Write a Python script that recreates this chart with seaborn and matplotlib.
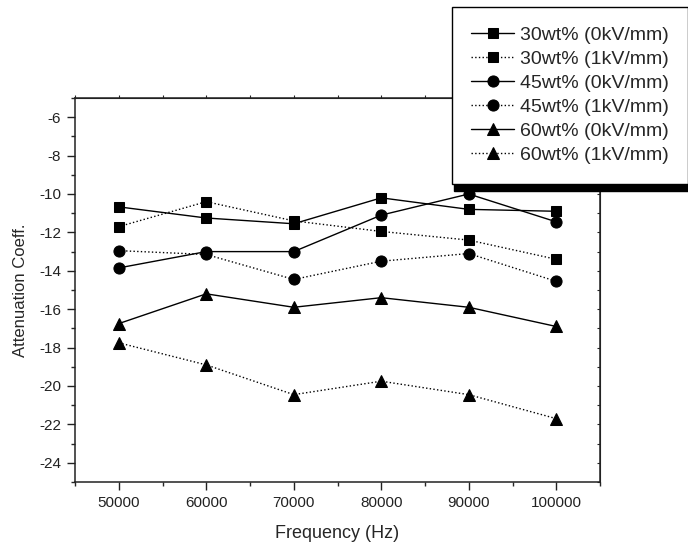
import numpy as np
import pandas as pd
import matplotlib
matplotlib.use("Agg")
import matplotlib.pyplot as plt
from matplotlib.patches import Shadow
from matplotlib.ticker import MultipleLocator
import seaborn as sns

freq = [50000, 60000, 70000, 80000, 90000, 100000]
s30_0 = [-10.67, -11.25, -11.55, -10.2, -10.8, -10.9]
s30_1 = [-11.7, -10.4, -11.4, -11.95, -12.4, -13.4]
s45_0 = [-13.85, -13.0, -13.0, -11.1, -10.0, -11.45]
s45_1 = [-12.95, -13.15, -14.45, -13.5, -13.1, -14.55]
s60_0 = [-16.75, -15.2, -15.9, -15.4, -15.9, -16.9]
s60_1 = [-17.75, -18.9, -20.45, -19.75, -20.45, -21.7]

labels = ["30wt% (0kV/mm)", "30wt% (1kV/mm)", "45wt% (0kV/mm)",
          "45wt% (1kV/mm)", "60wt% (0kV/mm)", "60wt% (1kV/mm)"]
series = [s30_0, s30_1, s45_0, s45_1, s60_0, s60_1]
markers = ["s", "s", "o", "o", "^", "^"]
msizes = [7.5, 7.5, 8, 8, 9, 9]
lstyles = ["-", ":", "-", ":", "-", ":"]
xticks = [50000, 60000, 70000, 80000, 90000, 100000]
yticks = [-24, -22, -20, -18, -16, -14, -12, -10, -8, -6]

sns.set_style("ticks")
plt.rcParams["font.family"] = ["Liberation Sans", "DejaVu Sans"]

fig = plt.figure(figsize=(6.88, 5.46), dpi=100)
ax = fig.add_axes([75 / 688, 1 - 482 / 546, 525 / 688, 384 / 546])

for lab, vals, m, ms, ls in zip(labels, series, markers, msizes, lstyles):
    df = pd.DataFrame({"Frequency": freq, "Coeff": vals})
    sns.lineplot(data=df, x="Frequency", y="Coeff", ax=ax, color="black",
                 marker=m, markersize=ms, markeredgecolor="black",
                 markerfacecolor="black", linestyle=ls, linewidth=1.0,
                 label=lab, legend=False)

ax.set_xlim(45000, 105000)
ax.set_ylim(-25, -5)
ax.set_xticks(xticks)
ax.set_xticklabels([str(v) for v in xticks])
ax.set_yticks(yticks)
ax.set_yticklabels([str(v) for v in yticks])
ax.xaxis.set_minor_locator(MultipleLocator(5000))
ax.yaxis.set_minor_locator(MultipleLocator(1))
ax.tick_params(which="major", direction="out", length=6, width=1.0,
               labelsize=11, colors="#222222", pad=4)
ax.tick_params(which="minor", direction="out", length=3, width=1.0)
for sp in ax.spines.values():
    sp.set_visible(True)
    sp.set_linewidth(1.1)
    sp.set_color("#222222")

ax.set_xlabel("Frequency (Hz)", fontsize=13, labelpad=11)
ax.set_ylabel("Attenuation Coeff.", fontsize=12, labelpad=8)

secx = ax.secondary_xaxis("top")
secx.xaxis.set_major_locator(MultipleLocator(5000))
secx.tick_params(direction="out", length=2, width=0.8, labeltop=False)
secy = ax.secondary_yaxis("right")
secy.yaxis.set_major_locator(MultipleLocator(1))
secy.tick_params(direction="in", length=2, width=0.8, labelright=False)

handles, labs = ax.get_legend_handles_labels()
leg = fig.legend(handles, labs, loc="upper left",
                 bbox_to_anchor=(452 / 688, 1 - 7 / 546),
                 bbox_transform=fig.transFigure, frameon=True, fancybox=False,
                 edgecolor="black", framealpha=1, fontsize=14, numpoints=1,
                 handlelength=2.2, handletextpad=0.3, labelspacing=0.33,
                 borderpad=1.0, borderaxespad=0)
leg.get_frame().set_linewidth(1.0)
leg.set_zorder(10)

fig.canvas.draw()
sh = Shadow(leg.legendPatch, 1.5, -5, facecolor="black", edgecolor="black",
            alpha=1)
sh.set_zorder(9)
fig.add_artist(sh)

fig.savefig("out.png", dpi=100)
